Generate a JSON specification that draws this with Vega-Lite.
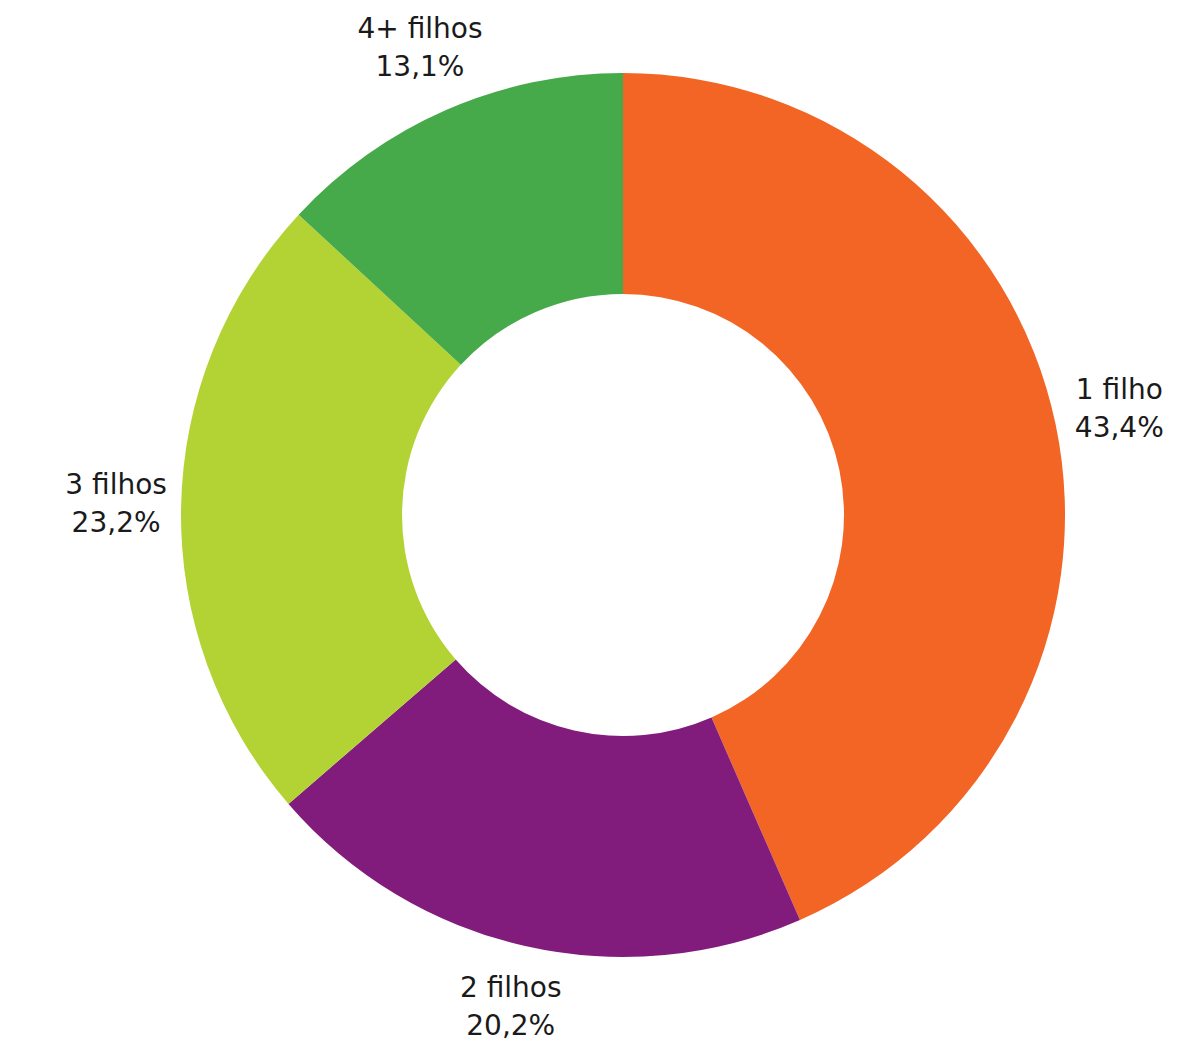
{
  "$schema": "https://vega.github.io/schema/vega-lite/v6.json",
  "width": 1000,
  "height": 1000,
  "autosize": "none",
  "padding": {"left": 123, "top": 15, "right": 73, "bottom": 29},
  "background": "white",
  "data": {
    "values": [
      {"cat": "1 filho", "pct": 43.4, "ord": 1, "label": "1 filho\n43,4%"},
      {"cat": "2 filhos", "pct": 20.2, "ord": 2, "label": "2 filhos\n20,2%"},
      {"cat": "3 filhos", "pct": 23.2, "ord": 3, "label": "3 filhos\n23,2%"},
      {"cat": "4+ filhos", "pct": 13.1, "ord": 4, "label": "4+ filhos\n13,1%"}
    ]
  },
  "encoding": {
    "theta": {"field": "pct", "type": "quantitative", "stack": true},
    "order": {"field": "ord", "type": "quantitative"}
  },
  "layer": [
    {
      "mark": {"type": "arc", "outerRadius": 442, "innerRadius": 221, "stroke": null},
      "encoding": {
        "color": {
          "field": "cat",
          "type": "nominal",
          "scale": {"domain": ["1 filho", "2 filhos", "3 filhos", "4+ filhos"], "range": ["#F26524", "#821C7C", "#B3D334", "#46A94A"]},
          "legend": null
        }
      }
    },
    {
      "mark": {"type": "text", "radius": 507, "dy": -20, "fontSize": 28, "font": "DejaVu Sans", "fill": "#1a1a1a", "lineBreak": "\n", "lineHeight": 38, "align": "center", "baseline": "middle"},
      "encoding": {
        "text": {"field": "label", "type": "nominal"}
      }
    }
  ],
  "config": {"view": {"stroke": null}}
}
